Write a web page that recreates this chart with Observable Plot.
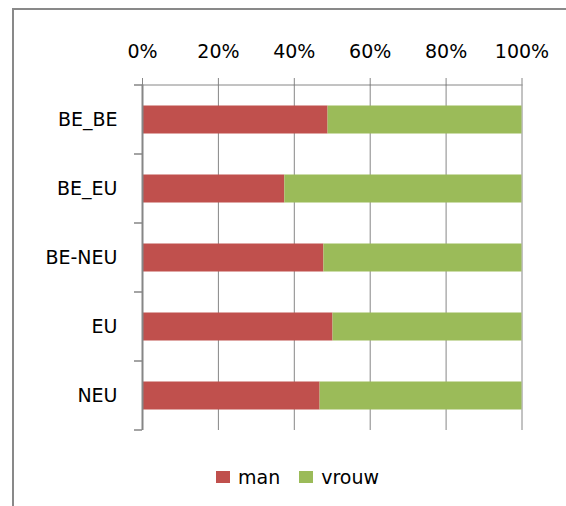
<!DOCTYPE html>
<html>
<head>
<meta charset="utf-8">
<script src="https://cdn.jsdelivr.net/npm/d3@7"></script>
<script src="https://cdn.jsdelivr.net/npm/@observablehq/plot@0.6"></script>
<style>
  html, body { margin: 0; padding: 0; background: #fff; overflow: hidden; }
  #wrap { position: relative; width: 566px; height: 506px; font-family: "DejaVu Sans", sans-serif; }
  #frame { position: absolute; left: 12px; top: 8px; width: 700px; height: 700px;
           border-left: 2.5px solid #898989; border-top: 2px solid #898989; box-sizing: border-box; }
  #chart { position: absolute; left: 0; top: 0; }
  #legend { position: absolute; left: 216px; top: 466px; display: flex; align-items: center;
            font-size: 19px; color: #000; }
  .sw { display: inline-block; width: 14px; height: 12px; margin-right: 8px; }
  .item { display: flex; align-items: center; margin-right: 19px; }
</style>
</head>
<body>
<div id="wrap">
  <div id="frame"></div>
  <div id="chart"></div>
  <div id="legend"></div>
</div>
<script>
const categories = ["BE_BE", "BE_EU", "BE-NEU", "EU", "NEU"];
const series = ["man", "vrouw"];
const manValues = [48.9, 37.5, 47.8, 50.2, 46.8];
const vrouwValues = [51.1, 62.5, 52.2, 49.8, 53.2];
const colors = ["#C0504D", "#9BBB59"];
const xTicks = [0, 0.2, 0.4, 0.6, 0.8, 1];

const data = [];
categories.forEach((c, i) => {
  data.push({cat: c, sex: "man", value: manValues[i]});
  data.push({cat: c, sex: "vrouw", value: vrouwValues[i]});
});

const gray = "#868686";

function separators(index, scales, values, dims) {
  const y = scales.y, x = scales.x;
  const g = d3.create("svg:g");
  const starts = categories.map(c => y(c));
  const step = starts[1] - starts[0];
  const bw = typeof y.bandwidth === "function" ? y.bandwidth() : step;
  const edges = starts.concat([starts[starts.length - 1] + bw]);
  const x0 = x(0), x1 = x(1);
  edges.forEach(e => {
    g.append("line").attr("x1", x0 - 8).attr("x2", x0).attr("y1", e).attr("y2", e)
      .attr("stroke", gray).attr("stroke-width", 1.5);
  });
  g.append("line").attr("x1", x0).attr("x2", x1).attr("y1", edges[0]).attr("y2", edges[0])
    .attr("stroke", gray).attr("stroke-width", 1);
  return g.node();
}

const chart = Plot.plot({
  width: 566,
  height: 460,
  marginTop: 84.5,
  marginBottom: 30,
  marginLeft: 142,
  marginRight: 44.5,
  style: {fontFamily: "DejaVu Sans, sans-serif", fontSize: "19px", color: "#000", background: "transparent"},
  x: {domain: [0, 1], label: null},
  y: {domain: categories, padding: 0, label: null},
  color: {domain: series, range: colors},
  marks: [
    Plot.gridX(xTicks, {stroke: gray, strokeOpacity: 1, strokeWidth: 1}),
    Plot.barX(data, Plot.stackX({
      x: "value", y: "cat", fill: "sex", order: series, offset: "normalize",
      insetTop: 20.5, insetBottom: 20.5
    })),
    Plot.ruleX([0], {stroke: gray, strokeWidth: 2}),
    Plot.axisX({anchor: "top", ticks: xTicks, tickFormat: d3.format(".0%"), label: null,
      tickSize: 7.5, tickPadding: 20, stroke: gray, strokeOpacity: 1, fill: "#000", fontSize: 19}),
    Plot.axisY({anchor: "left", tickSize: 0, tickPadding: 25, label: null, fill: "#000", fontSize: 19}),
    separators
  ]
});
document.getElementById("chart").appendChild(chart);

const legend = document.getElementById("legend");
series.forEach((s, i) => {
  const item = document.createElement("div");
  item.className = "item";
  const sw = document.createElement("span");
  sw.className = "sw";
  sw.style.background = colors[i];
  const t = document.createElement("span");
  t.textContent = s;
  item.appendChild(sw);
  item.appendChild(t);
  legend.appendChild(item);
});
</script>
</body>
</html>
